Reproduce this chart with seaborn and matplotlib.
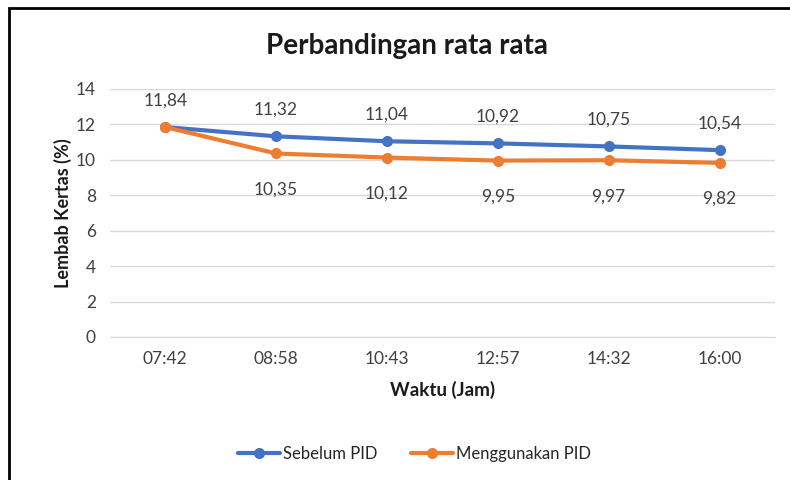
import pandas as pd
import matplotlib.pyplot as plt
import seaborn as sns
from matplotlib.patches import Rectangle

# --- data ---
waktu = ['07:42', '08:58', '10:43', '12:57', '14:32', '16:00']
sebelum_pid = [11.84, 11.32, 11.04, 10.92, 10.75, 10.54]
menggunakan_pid = [11.84, 10.35, 10.12, 9.95, 9.97, 9.82]
series_names = ['Sebelum PID', 'Menggunakan PID']

df = pd.DataFrame({
    'Waktu': waktu * 2,
    'Nilai': sebelum_pid + menggunakan_pid,
    'Seri': [series_names[0]] * len(waktu) + [series_names[1]] * len(waktu),
})

sns.set_style('white')
plt.rcParams['font.family'] = ['Lato', 'DejaVu Sans']

colors = {'Sebelum PID': '#4472C4', 'Menggunakan PID': '#ED7D31'}

fig = plt.figure(figsize=(7.9, 4.8), dpi=100)
ax = fig.add_axes([0.139, 0.298, 0.842, 0.517])

sns.lineplot(data=df, x='Waktu', y='Nilai', hue='Seri', palette=colors,
             marker='o', markersize=8, markeredgewidth=0, linewidth=3,
             sort=False, ax=ax)

ax.set_xlim(-0.5, len(waktu) - 0.5)
ax.set_ylim(0, 14)
ax.set_yticks(range(0, 15, 2))
ax.grid(axis='y', color='#D9D9D9', linewidth=1)
ax.set_axisbelow(True)
for s in ['left', 'right', 'top']:
    ax.spines[s].set_visible(False)
ax.spines['bottom'].set_color('#D9D9D9')
ax.tick_params(axis='both', length=0, labelsize=12.5, labelcolor='#404040', pad=10)

def fmt(v):
    return f'{v:.2f}'.replace('.', ',')

# data labels: blue above, orange below (first point shared)
for i, v in enumerate(sebelum_pid):
    ax.annotate(fmt(v), (i, v), xytext=(0, 19), textcoords='offset points',
                ha='center', va='center', fontsize=12.5, color='#404040')
for i, v in enumerate(menggunakan_pid):
    if i == 0:
        continue
    ax.annotate(fmt(v), (i, v), xytext=(0, -26), textcoords='offset points',
                ha='center', va='center', fontsize=12.5, color='#404040')

ax.set_xlabel('Waktu (Jam)', fontsize=13.5, fontweight='bold', color='#1a1a1a', labelpad=10)
ax.set_ylabel('Lembab Kertas (%)', fontsize=13, fontweight='bold', color='#1a1a1a', labelpad=3)

fig.text(0.515, 0.905, 'Perbandingan rata rata', ha='center', va='center',
         fontsize=20, fontweight='bold', color='#1a1a1a')

handles, labels = ax.get_legend_handles_labels()
ax.legend_.remove()
fig.legend(handles, labels, loc='center', bbox_to_anchor=(0.525, 0.055), ncol=2,
           frameon=False, fontsize=12, handlelength=2.5, columnspacing=2,
           handletextpad=0.2)

# chart border
fig.patches.append(Rectangle((0.011, -0.05), 1.2, 1.033, transform=fig.transFigure,
                             fill=False, edgecolor='black', linewidth=2))

fig.savefig('out.png', dpi=100)
